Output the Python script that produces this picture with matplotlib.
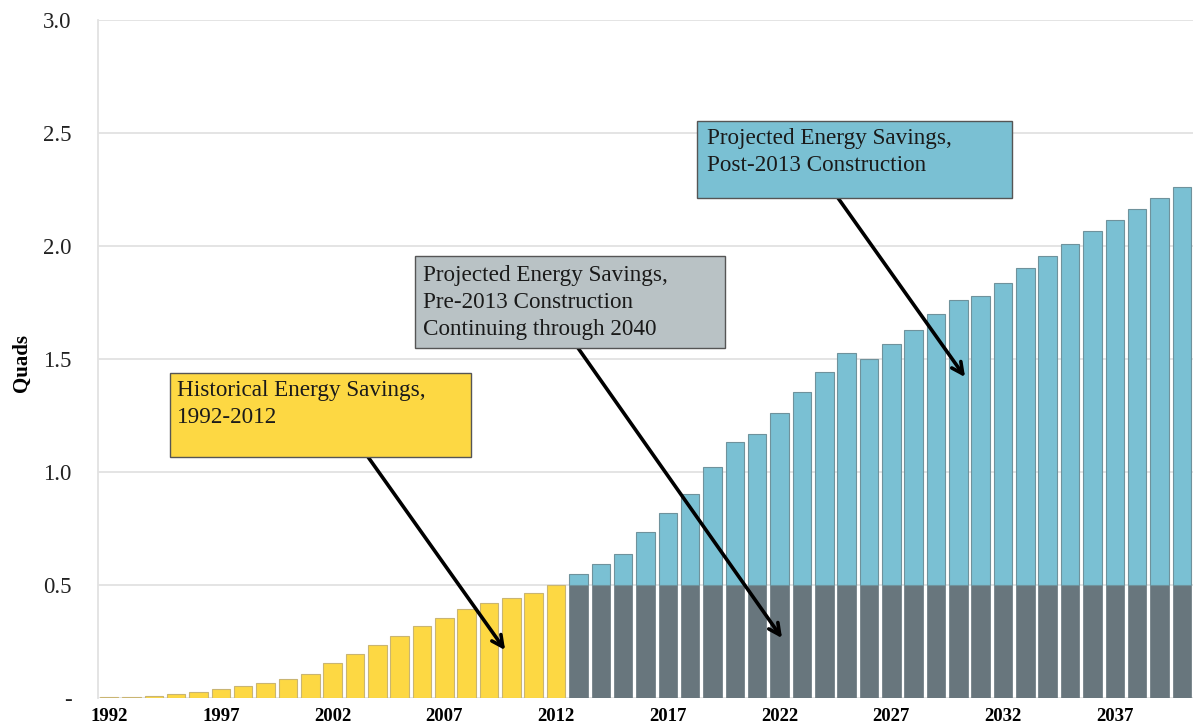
import matplotlib
matplotlib.use('Agg')
import matplotlib.pyplot as plt
import numpy as np
from matplotlib.patches import Rectangle

# historical savings 1992-2012 (quads)
hist_years = list(range(1992, 2013))
hist_vals = [0.004, 0.006, 0.009, 0.016, 0.025, 0.038, 0.051, 0.065, 0.085, 0.107,
             0.154, 0.194, 0.235, 0.274, 0.318, 0.356, 0.396, 0.421, 0.444, 0.466, 0.500]

# projected 2013-2040: pre-2013 construction continuing + total incl. post-2013
proj_years = list(range(2013, 2041))
pre2013_vals = [0.5] * 28
total_vals = [0.547, 0.592, 0.637, 0.736, 0.820, 0.901, 1.021, 1.134, 1.167, 1.263,
              1.353, 1.442, 1.525, 1.499, 1.565, 1.628, 1.698, 1.761, 1.779, 1.838,
              1.901, 1.956, 2.007, 2.066, 2.115, 2.164, 2.212, 2.260]
post2013_vals = [t - p for t, p in zip(total_vals, pre2013_vals)]

xtick_years = [1992, 1997, 2002, 2007, 2012, 2017, 2022, 2027, 2032, 2037]
ytick_vals = [0, 0.5, 1.0, 1.5, 2.0, 2.5, 3.0]
ytick_labels = ['-', '0.5', '1.0', '1.5', '2.0', '2.5', '3.0']

YELLOW = '#FDD843'
BLUE = '#7AC0D3'
DARK = '#68767D'
GRAYBOX = '#B9C2C5'

plt.rcParams['font.family'] = ['Liberation Serif', 'DejaVu Serif']

fig = plt.figure(figsize=(11.93, 7.28), dpi=100)
ax = fig.add_axes([0.0821, 0.0412, 0.9179, 0.9313])

w = 0.83
ax.bar(hist_years, hist_vals, w, color=YELLOW, edgecolor='#C9B572', linewidth=0.8, zorder=3)
ax.bar(proj_years, pre2013_vals, w, color=DARK, edgecolor=DARK, linewidth=0.5, zorder=3)
ax.bar(proj_years, post2013_vals, w, bottom=pre2013_vals, color=BLUE,
       edgecolor='#6F929C', linewidth=0.8, zorder=3)

ax.set_xlim(1991.5, 2040.5)
ax.set_ylim(0, 3.0)
ax.set_yticks(ytick_vals)
ax.set_yticklabels(ytick_labels, fontsize=16.5, color='#222222')
ax.set_xticks(xtick_years)
ax.set_xticklabels([str(y) for y in xtick_years], fontsize=13.5, fontweight='bold')
ax.tick_params(axis='both', length=0)
ax.tick_params(axis='y', pad=19)
ax.tick_params(axis='x', pad=7)
ax.grid(axis='y', color='#E2E2E2', linewidth=1.3, zorder=0)
for s in ['top', 'right', 'bottom']:
    ax.spines[s].set_visible(False)
ax.spines['left'].set_color('#E2E2E2')
ax.spines['left'].set_linewidth(1.3)
ax.set_ylabel('Quads', fontsize=15, fontweight='bold')
ax.yaxis.set_label_coords(-0.060, 0.494)


def callout(x0, x1, y0, y1, color, text, tx, ty, start, end):
    ax.add_patch(Rectangle((x0, y0), x1 - x0, y1 - y0, facecolor=color,
                           edgecolor='#555555', linewidth=1.0, zorder=6))
    ax.text(tx, ty, text, fontsize=16.7, va='top', ha='left', color='#1a1a1a',
            linespacing=1.36, zorder=7)
    ax.annotate('', xy=end, xytext=start,
                arrowprops=dict(arrowstyle='->,head_length=0.8,head_width=0.4',
                                color='black', lw=2.6, shrinkA=0, shrinkB=0),
                zorder=5)


callout(1994.73, 2008.2, 1.066, 1.438, YELLOW,
        'Historical Energy Savings,\n1992-2012', 1995.05, 1.405,
        (2003.59, 1.066), (2009.72, 0.212))
callout(2005.69, 2019.56, 1.549, 1.956, GRAYBOX,
        'Projected Energy Savings,\nPre-2013 Construction\nContinuing through 2040',
        2006.05, 1.915, (2012.98, 1.549), (2022.11, 0.265))
callout(2018.31, 2032.4, 2.212, 2.553, BLUE,
        'Projected Energy Savings,\nPost-2013 Construction', 2018.75, 2.52,
        (2024.62, 2.212), (2030.3, 1.420))

fig.savefig('out.png', dpi=100)
